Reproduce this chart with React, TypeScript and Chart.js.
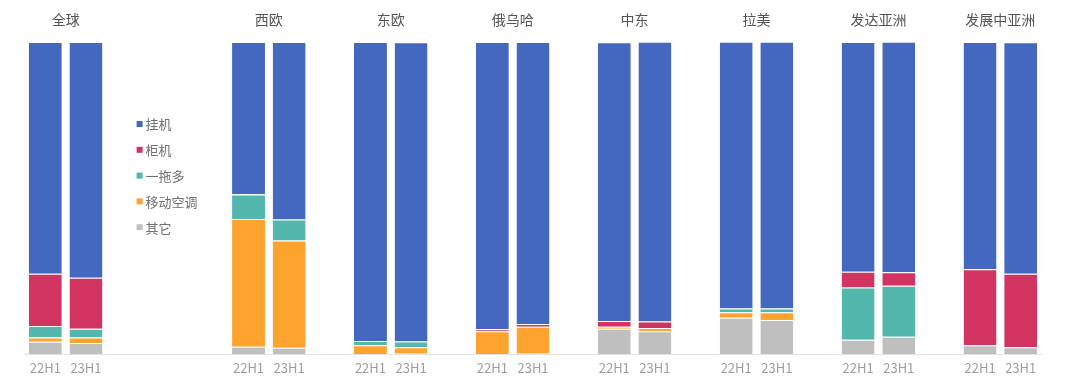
import React, { useEffect, useRef } from "react";
import { Chart, registerables } from "chart.js";

Chart.register(...registerables);

const regions = ["全球", "西欧", "东欧", "俄乌哈", "中东", "拉美", "发达亚洲", "发展中亚洲"];
const periods = ["22H1", "23H1"];
// empty category slots after each region
const gapAfter = [3, 1, 1, 1, 1, 1, 1, 0];

// shares (%) per region: [22H1, 23H1, ...]
const wallMounted = [74.3, 75.6, 48.8, 56.9, 95.8, 95.9, 92.1, 90.4, 89.3, 89.7, 85.5, 85.5, 73.6, 73.9, 72.8, 74.2];
const floorStanding = [16.7, 16.3, 0.1, 0, 0, 0, 0.6, 0.9, 1.9, 2.1, 0, 0, 5.1, 4.3, 24.4, 23.5];
const multiSplit = [3.7, 2.8, 7.8, 6.7, 1.4, 1.8, 0, 0, 0, 0, 1.2, 1.2, 16.7, 16.4, 0, 0];
const portable = [1.4, 1.8, 41.0, 34.4, 2.8, 1.9, 7.3, 8.4, 0.6, 1.0, 1.8, 2.5, 0, 0, 0, 0];
const others = [3.9, 3.5, 2.3, 2.0, 0, 0.3, 0, 0.3, 8.1, 7.3, 11.6, 10.9, 4.6, 5.5, 2.8, 2.2];

const seriesNames = ["挂机", "柜机", "一拖多", "移动空调", "其它"];
const seriesColors = ["#4468C0", "#D23461", "#52B7AD", "#FFA32F", "#BFBFBF"];
const seriesValues = [wallMounted, floorStanding, multiSplit, portable, others];

const FONT = '"Noto Sans CJK SC", "Noto Sans", sans-serif';

// build category layout
const labels: string[] = [];
const slotOf: number[] = []; // index into value arrays, or -1
const regionStart: number[] = [];
regions.forEach((_, r) => {
  regionStart.push(labels.length);
  periods.forEach((p, k) => {
    labels.push(p);
    slotOf.push(r * periods.length + k);
  });
  for (let g = 0; g < gapAfter[r]; g++) {
    labels.push("");
    slotOf.push(-1);
  }
});

const overlayPlugin = {
  id: "overlay",
  afterDraw(chart: any) {
    const ctx = chart.ctx as CanvasRenderingContext2D;
    const x = chart.scales.x;
    const area = chart.chartArea;
    ctx.save();
    ctx.font = `14px ${FONT}`;
    ctx.fillStyle = "#555555";
    ctx.textAlign = "center";
    ctx.textBaseline = "middle";
    regionStart.forEach((idx, r) => {
      const cx = (x.getPixelForValue(idx) + x.getPixelForValue(idx + 1)) / 2;
      ctx.fillText(regions[r], cx, 20);
    });
    // legend in the gap after the first region
    const lx = x.getPixelForValue(2) + 10;
    const ly = area.top + 82;
    ctx.font = `13px ${FONT}`;
    ctx.textAlign = "left";
    seriesNames.forEach((name, i) => {
      const y = ly + i * 25.8;
      ctx.fillStyle = seriesColors[i];
      ctx.fillRect(lx, y - 3, 6, 6);
      ctx.fillStyle = "#707070";
      ctx.fillText(name, lx + 9, y + 0.5);
    });
    ctx.restore();
  },
};

export default function App() {
  const canvasRef = useRef<HTMLCanvasElement | null>(null);

  useEffect(() => {
    document.body.style.margin = "0";
    const canvas = canvasRef.current;
    if (!canvas) return;
    // stack from bottom: 其它 first, 挂机 last (on top)
    const order = [4, 3, 2, 1, 0];
    const datasets = order.map((i) => ({
      label: seriesNames[i],
      data: slotOf.map((s) => (s < 0 ? null : seriesValues[i][s])),
      backgroundColor: seriesColors[i],
      borderColor: "#FFFFFF",
      borderWidth: { top: 1, right: 0, bottom: 0, left: 0 },
      borderSkipped: false as any,
      barPercentage: 0.81,
      categoryPercentage: 1,
    }));
    const chart = new Chart(canvas, {
      type: "bar",
      data: { labels, datasets },
      options: {
        animation: false,
        responsive: false,
        maintainAspectRatio: false,
        layout: { padding: { top: 42, left: 25, right: 39, bottom: 0 } },
        plugins: {
          legend: { display: false },
          tooltip: { enabled: false },
        },
        scales: {
          x: {
            stacked: true,
            grid: { display: false, drawTicks: false },
            border: { display: true, color: "#E3E3E3", width: 1 },
            ticks: {
              color: "#9E9E9E",
              font: { family: FONT, size: 13, lineHeight: 1 },
              padding: 8,
              autoSkip: false,
              maxRotation: 0,
            },
          },
          y: {
            stacked: true,
            display: false,
            min: 0,
            max: 100,
          },
        },
      },
      plugins: [overlayPlugin],
    });
    return () => chart.destroy();
  }, []);

  return (
    <div style={{ position: "relative", width: 1080, height: 383, background: "#fff" }}>
      <canvas ref={canvasRef} width={1080} height={383} style={{ display: "block" }} />
    </div>
  );
}
